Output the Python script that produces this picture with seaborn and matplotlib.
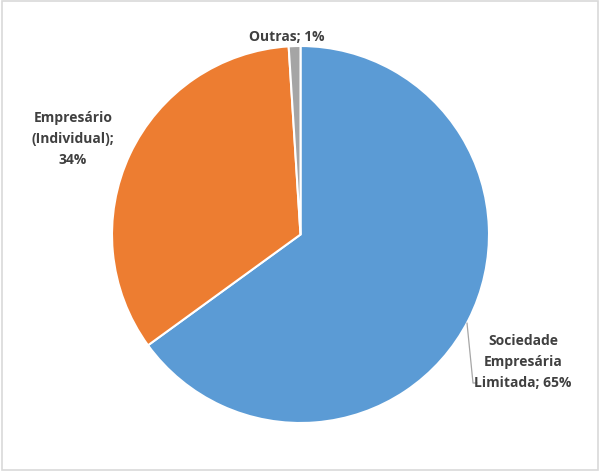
import matplotlib
matplotlib.use("Agg")
import matplotlib.pyplot as plt
import seaborn as sns
import numpy as np

labels = ["Sociedade\nEmpresária\nLimitada; 65%", "Empresário\n(Individual);\n34%", "Outras; 1%"]
values = [65, 34, 1]
colors = ["#5B9BD5", "#ED7D31", "#A5A5A5"]

sns.set_style("white")
plt.rcParams['font.family'] = ['Open Sans', 'DejaVu Sans']

W, H = 600, 472
fig = plt.figure(figsize=(W / 100, H / 100), dpi=100)
ax = fig.add_axes([0, 0, 1, 1])
R = 188.5
cx, cy = 300.5, 234.5  # pixel center (from top)

ax.pie(values, colors=colors, startangle=90, counterclock=False, radius=1,
       wedgeprops=dict(edgecolor="white", linewidth=1.5), frame=False)
ax.set_xlim(-cx / R, (W - cx) / R)
ax.set_ylim(-(H - cy) / R, cy / R)
ax.axis("off")

def px(x, y):
    return ((x - cx) / R, (cy - y) / R)

txt = dict(fontsize=10, fontweight="bold", color="#404040", ha="center", va="center",
           linespacing=1.6)
ax.text(*px(523, 362), labels[0], **txt)
ax.text(*px(73, 139), labels[1], **txt)
ax.text(*px(287, 37), labels[2], **txt)

# leader line for the first label
a = px(467, 323)
b = px(473, 383)
c = px(477, 383)
ax.plot([a[0], b[0], c[0]], [a[1], b[1], c[1]], color="#A6A6A6", linewidth=0.9)

# light frame
fig.patches.append(plt.Rectangle((0.003, 0.004), 0.994, 0.993, transform=fig.transFigure,
                                 fill=False, edgecolor="#D9D9D9", linewidth=1.2))

fig.savefig("out.png", dpi=100, facecolor="white")
